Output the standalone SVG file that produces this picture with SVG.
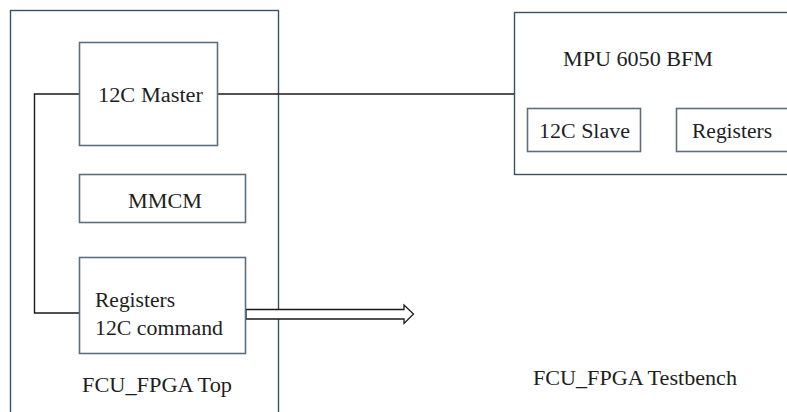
<svg xmlns="http://www.w3.org/2000/svg" width="787" height="412" viewBox="0 0 787 412" font-family="'Liberation Serif', 'DejaVu Serif', serif">
<style>
.frame{fill:none;stroke:#3a5266;stroke-width:1.4}
.box{fill:#ffffff;stroke:#5f6e7c;stroke-width:1.6}
.wire{fill:none;stroke:#1a1a1a;stroke-width:1.4}
text{font-family:'Liberation Serif','DejaVu Serif',serif;font-size:20px;fill:#1e1e1e}
</style>
<rect width="787" height="412" fill="#ffffff"/>
<g id="fcu_top">
<rect class="frame" x="10.5" y="10.5" width="268" height="410"/>
<text x="82" y="392" textLength="150" lengthAdjust="spacingAndGlyphs">FCU_FPGA Top</text>
</g>
<g id="testbench">
<text x="533" y="385" textLength="204" lengthAdjust="spacingAndGlyphs">FCU_FPGA Testbench</text>
</g>
<g id="mpu_bfm">
<rect class="frame" x="514.5" y="12.5" width="290" height="162"/>
<text x="563" y="66" textLength="150" lengthAdjust="spacingAndGlyphs">MPU 6050 BFM</text>
</g>
<g id="connectors">
<path class="wire" d="M79,94 H34.5 V313 H79"/>
<path class="wire" d="M218,94 H514"/>
<path fill="#ffffff" stroke="#1a1a1a" stroke-width="1.3" d="M246,309.5 H404 V305 L413.5,314 L404,323.5 V319 H246 Z"/>
</g>
<g id="i2c_master">
<rect class="box" x="79.5" y="42.5" width="138" height="103"/>
<text x="98" y="102" textLength="105" lengthAdjust="spacingAndGlyphs">12C Master</text>
</g>
<g id="mmcm">
<rect class="box" x="79.5" y="174.5" width="166" height="48"/>
<text x="128" y="208" textLength="74" lengthAdjust="spacingAndGlyphs">MMCM</text>
</g>
<g id="registers_cmd">
<rect class="box" x="79.5" y="257.5" width="166" height="96"/>
<text x="95" y="307" textLength="80" lengthAdjust="spacingAndGlyphs">Registers</text>
<text x="95" y="335" textLength="128" lengthAdjust="spacingAndGlyphs">12C command</text>
</g>
<g id="i2c_slave">
<rect class="box" x="527.5" y="108.5" width="113" height="43"/>
<text x="539" y="138" textLength="91" lengthAdjust="spacingAndGlyphs">12C Slave</text>
</g>
<g id="bfm_registers">
<rect class="box" x="676.5" y="108.5" width="130" height="43"/>
<text x="692" y="138" textLength="80" lengthAdjust="spacingAndGlyphs">Registers</text>
</g>
</svg>
